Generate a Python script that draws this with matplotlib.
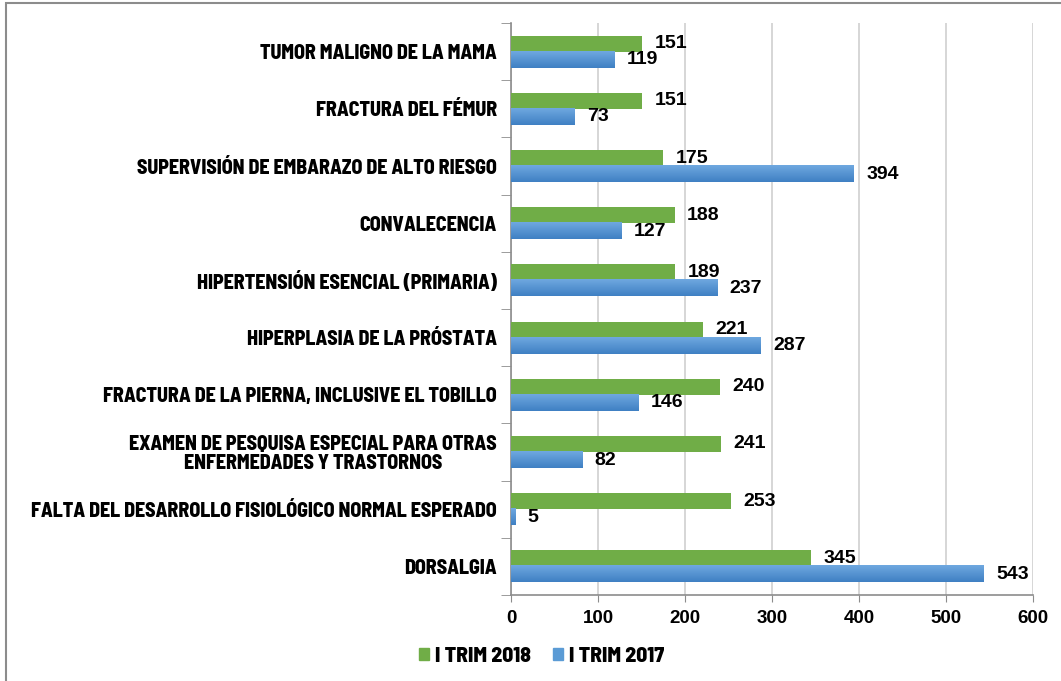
import matplotlib
matplotlib.use("Agg")
import matplotlib.pyplot as plt
import numpy as np
from matplotlib.patches import Rectangle, Patch
from matplotlib.colors import LinearSegmentedColormap

categories = [
    "TUMOR MALIGNO DE LA MAMA",
    "FRACTURA DEL FÉMUR",
    "SUPERVISIÓN DE EMBARAZO DE ALTO RIESGO",
    "CONVALECENCIA",
    "HIPERTENSIÓN ESENCIAL (PRIMARIA)",
    "HIPERPLASIA DE LA PRÓSTATA",
    "FRACTURA DE LA PIERNA, INCLUSIVE EL TOBILLO",
    "EXAMEN DE PESQUISA ESPECIAL PARA OTRAS\nENFERMEDADES Y TRASTORNOS",
    "FALTA DEL DESARROLLO FISIOLÓGICO NORMAL ESPERADO",
    "DORSALGIA",
]
trim_2018 = [151, 151, 175, 188, 189, 221, 240, 241, 253, 345]
trim_2017 = [119, 73, 394, 127, 237, 287, 146, 82, 5, 543]
series_names = ["I TRIM 2018", "I TRIM 2017"]
xticks = [0, 100, 200, 300, 400, 500, 600]

narrow = ["Barlow Semi Condensed", "DejaVu Sans"]
wide = ["Liberation Sans", "DejaVu Sans"]

fig = plt.figure(figsize=(10.61, 6.81), dpi=100)
ax = fig.add_axes([0.4816, 0.1263, 0.4920, 0.8399])

green = "#70AD47"
blue = "#5B9BD5"
h = 0.28
y = np.arange(len(categories))

ax.barh(y - 0.14, trim_2018, height=h, color=green, zorder=3)
bars_b = ax.barh(y + 0.14, trim_2017, height=h, color=blue, zorder=3)

grad = np.linspace(0, 1, 50).reshape(-1, 1)
cmap = LinearSegmentedColormap.from_list("b", ["#6FA8E0", "#3F80C3"])
for b in bars_b:
    x0, y0 = b.get_x(), b.get_y()
    w, hh = b.get_width(), b.get_height()
    ax.imshow(grad, extent=(x0, x0 + w, y0 + hh, y0), aspect="auto",
              cmap=cmap, origin="upper", zorder=3.5, interpolation="bilinear")

ax.set_xlim(0, 600)
ax.set_ylim(len(categories) - 0.5, -0.5)

for yi, v in zip(y, trim_2018):
    ax.annotate(str(v), (v, yi - 0.14), xytext=(9, 0), textcoords="offset points",
                va="center", ha="left", fontsize=14, fontweight="bold", family=wide)
for yi, v in zip(y, trim_2017):
    ax.annotate(str(v), (v, yi + 0.14), xytext=(9, 0), textcoords="offset points",
                va="center", ha="left", fontsize=14, fontweight="bold", family=wide)

ax.set_xticks(xticks)
ax.set_xticklabels([str(t) for t in xticks], fontsize=13.5, fontweight="bold", family=wide)
ax.tick_params(axis="x", length=5, color="#8C8C8C", pad=6)
ax.xaxis.grid(True, color="#D0D0D0", lw=1.2, zorder=0)
ax.set_axisbelow(True)

ax.set_yticks(y)
ax.set_yticklabels(categories, fontsize=14.3, fontweight=800, family=narrow,
                   multialignment="center", linespacing=1.0)
ax.tick_params(axis="y", which="major", length=0, pad=10)
ax.set_yticks(np.arange(-0.5, len(categories)), minor=True)
ax.tick_params(axis="y", which="minor", length=7, color="#8C8C8C")

for s in ["top", "right"]:
    ax.spines[s].set_visible(False)
for s in ["left", "bottom"]:
    ax.spines[s].set_color("#8C8C8C")
    ax.spines[s].set_linewidth(1.2)

handles = [Patch(color=green), Patch(color=blue)]
fig.legend(handles, series_names, loc="center", bbox_to_anchor=(0.5104, 0.036),
           ncol=2, frameon=False, handlelength=0.47, handleheight=0.47,
           handletextpad=0.3, columnspacing=1.0,
           prop={"family": narrow, "weight": 800, "size": 15.5})

fig.patches.append(Rectangle((6 / 1061, -0.1), 1.2, 1 - 3 / 681 + 0.1,
                             transform=fig.transFigure, fill=False,
                             edgecolor="#8C8C8C", lw=1.5, zorder=10))

fig.savefig("out.png", dpi=100)
